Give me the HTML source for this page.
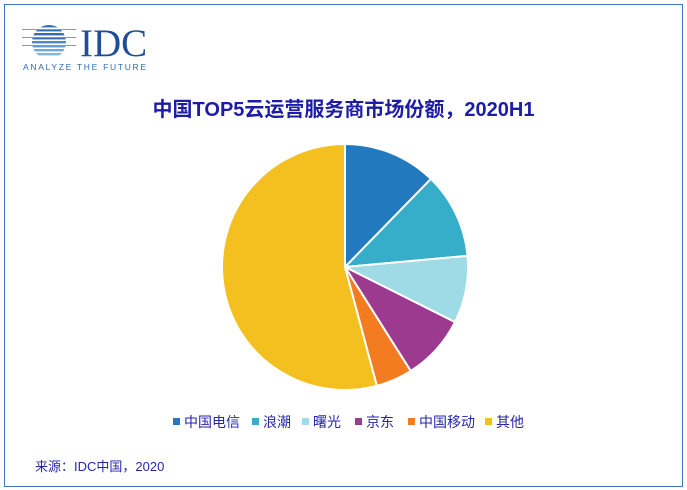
<!DOCTYPE html><html><head><meta charset="utf-8"><style>
body{margin:0;width:687px;height:490px;background:#fff;position:relative;overflow:hidden;font-family:"Liberation Sans","Noto Sans CJK SC",sans-serif}
.frame{position:absolute;left:4px;top:4px;width:677px;height:481px;border:1px solid #3d78c0}
.t{position:absolute;white-space:nowrap}
.lg{position:absolute;top:412px;font-size:14px;color:#2626a8;white-space:nowrap}
.lg i{display:inline-block;width:7px;height:7px;margin-right:4px;vertical-align:2px}
</style></head><body>
<div class="frame"></div>
<svg style="position:absolute;left:0;top:0" width="687" height="490">
<defs><clipPath id="c"><circle cx="49" cy="42" r="17"/></clipPath></defs>
<g clip-path="url(#c)" fill="#2f6db0">
<rect x="30" y="25" width="40" height="2.4"/><rect x="30" y="29" width="40" height="2.4"/><rect x="30" y="33" width="40" height="2.4"/><rect x="30" y="37" width="40" height="2.4"/><rect x="30" y="41" width="40" height="2.4" fill="#4a8ac8"/><rect x="30" y="45" width="40" height="2.4" fill="#5a9ad4"/><rect x="30" y="49" width="40" height="2.4" fill="#6aaade"/><rect x="30" y="53" width="40" height="2.4" fill="#7ab8e6"/>
</g>
<g fill="#6aa0d4"><rect x="22" y="29" width="54" height="1"/><rect x="22" y="37" width="54" height="1"/><rect x="22" y="45" width="54" height="1"/></g>
<text x="80" y="56" font-family="Liberation Serif" font-size="39" fill="#1f4e96">IDC</text>
<text x="23" y="70" font-family="Liberation Sans" font-size="8.5" letter-spacing="1.7" fill="#2f6db0">ANALYZE THE FUTURE</text>
<g id="pie" stroke="#fff" stroke-width="2"></g>
</svg>
<div class="t" style="left:0;width:687px;text-align:center;top:93px;font-size:20px;font-weight:bold;color:#1c1ca6">中国TOP5云运营服务商市场份额，2020H1</div>
<div class="lg" style="left:173px"><i style="background:#2279bd"></i>中国电信</div>
<div class="lg" style="left:252px"><i style="background:#36aec9"></i>浪潮</div>
<div class="lg" style="left:302px"><i style="background:#9fdbe6"></i>曙光</div>
<div class="lg" style="left:355px"><i style="background:#9b3a8f"></i>京东</div>
<div class="lg" style="left:408px"><i style="background:#f47c20"></i>中国移动</div>
<div class="lg" style="left:485px"><i style="background:#f4c01f"></i>其他</div>
<div class="t" style="left:35px;top:456px;font-size:13px;color:#2626a8">来源：IDC中国，2020</div>
<script>
var cx=345,cy=267,r=123,a=[0,44.3,84.8,116.6,147.7,165,360],c=["#2279bd","#36aec9","#9fdbe6","#9b3a8f","#f47c20","#f4c01f"],h="";
function p(d){d=d*Math.PI/180;return (cx+r*Math.sin(d)).toFixed(2)+","+(cy-r*Math.cos(d)).toFixed(2)}
for(var i=0;i<6;i++){h+='<path fill="'+c[i]+'" d="M'+cx+','+cy+' L'+p(a[i])+' A'+r+','+r+' 0 '+(a[i+1]-a[i]>180?1:0)+' 1 '+p(a[i+1])+' Z"/>'}
document.getElementById("pie").innerHTML=h;
</script>
</body></html>
